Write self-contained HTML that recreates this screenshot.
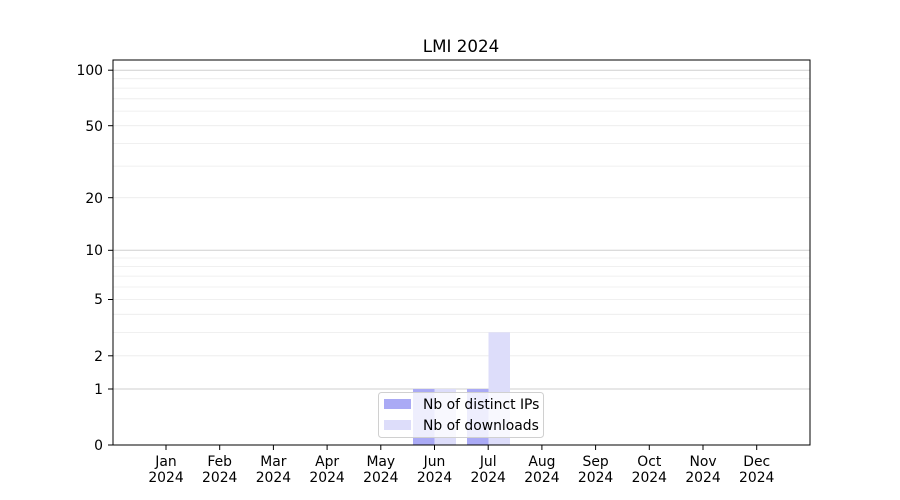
<!DOCTYPE html>
<html><head><meta charset="utf-8"><style>body{margin:0;background:#fff}svg{display:block}</style></head><body>
<svg width="900" height="500" xmlns="http://www.w3.org/2000/svg" font-family="DejaVu Sans, Liberation Sans, sans-serif" font-size="13.9">
<rect width="900" height="500" fill="#fff"/>
<g stroke="#ebebeb" stroke-width="0.8">
<line x1="113" x2="810" y1="355.8" y2="355.8"/><line x1="113" x2="810" y1="332.4" y2="332.4"/><line x1="113" x2="810" y1="314.3" y2="314.3"/><line x1="113" x2="810" y1="299.5" y2="299.5"/><line x1="113" x2="810" y1="287" y2="287"/><line x1="113" x2="810" y1="276.1" y2="276.1"/><line x1="113" x2="810" y1="266.6" y2="266.6"/><line x1="113" x2="810" y1="258" y2="258"/>
<line x1="113" x2="810" y1="197.7" y2="197.7"/><line x1="113" x2="810" y1="166.1" y2="166.1"/><line x1="113" x2="810" y1="143.4" y2="143.4"/><line x1="113" x2="810" y1="125.7" y2="125.7"/><line x1="113" x2="810" y1="111.1" y2="111.1"/><line x1="113" x2="810" y1="98.8" y2="98.8"/><line x1="113" x2="810" y1="88.1" y2="88.1"/><line x1="113" x2="810" y1="78.7" y2="78.7"/>
</g>
<g stroke="#cfcfcf" stroke-width="1">
<line x1="113" x2="810" y1="389" y2="389"/><line x1="113" x2="810" y1="250.3" y2="250.3"/><line x1="113" x2="810" y1="70.2" y2="70.2"/>
</g>
<rect x="413" y="389" width="21.5" height="56" fill="#aaaaf5"/>
<rect x="434.5" y="389" width="21.5" height="56" fill="#ddddfa"/>
<rect x="467" y="389" width="21.5" height="56" fill="#aaaaf5"/>
<rect x="488.5" y="332.4" width="21.5" height="112.6" fill="#ddddfa"/>
<rect x="113" y="60" width="697" height="385" fill="none" stroke="#000" stroke-width="1"/>
<g stroke="#000">
<line x1="108" x2="113" y1="445" y2="445"/><line x1="108" x2="113" y1="389" y2="389"/><line x1="108" x2="113" y1="355.8" y2="355.8"/><line x1="108" x2="113" y1="299.5" y2="299.5"/><line x1="108" x2="113" y1="250.3" y2="250.3"/><line x1="108" x2="113" y1="197.7" y2="197.7"/><line x1="108" x2="113" y1="125.7" y2="125.7"/><line x1="108" x2="113" y1="70.2" y2="70.2"/>
</g>
<g text-anchor="end" fill="#000">
<text x="103" y="450">0</text><text x="103" y="394">1</text><text x="103" y="361">2</text><text x="103" y="304">5</text><text x="103" y="255">10</text><text x="103" y="203">20</text><text x="103" y="131">50</text><text x="103" y="75">100</text>
</g>
<g stroke="#000">
<line x1="166" x2="166" y1="445" y2="450"/><line x1="219.7" x2="219.7" y1="445" y2="450"/><line x1="273.4" x2="273.4" y1="445" y2="450"/><line x1="327.1" x2="327.1" y1="445" y2="450"/><line x1="380.8" x2="380.8" y1="445" y2="450"/><line x1="434.5" x2="434.5" y1="445" y2="450"/><line x1="488.2" x2="488.2" y1="445" y2="450"/><line x1="541.9" x2="541.9" y1="445" y2="450"/><line x1="595.6" x2="595.6" y1="445" y2="450"/><line x1="649.3" x2="649.3" y1="445" y2="450"/><line x1="703" x2="703" y1="445" y2="450"/><line x1="756.7" x2="756.7" y1="445" y2="450"/>
</g>
<g text-anchor="middle" fill="#000">
<text x="166" y="466">Jan</text><text x="166" y="482">2024</text>
<text x="219.7" y="466">Feb</text><text x="219.7" y="482">2024</text>
<text x="273.4" y="466">Mar</text><text x="273.4" y="482">2024</text>
<text x="327.1" y="466">Apr</text><text x="327.1" y="482">2024</text>
<text x="380.8" y="466">May</text><text x="380.8" y="482">2024</text>
<text x="434.5" y="466">Jun</text><text x="434.5" y="482">2024</text>
<text x="488.2" y="466">Jul</text><text x="488.2" y="482">2024</text>
<text x="541.9" y="466">Aug</text><text x="541.9" y="482">2024</text>
<text x="595.6" y="466">Sep</text><text x="595.6" y="482">2024</text>
<text x="649.3" y="466">Oct</text><text x="649.3" y="482">2024</text>
<text x="703" y="466">Nov</text><text x="703" y="482">2024</text>
<text x="756.7" y="466">Dec</text><text x="756.7" y="482">2024</text>
<text x="461" y="52" font-size="16.7">LMI 2024</text>
</g>
<rect x="378.5" y="392.5" width="165" height="45" rx="3" fill="#fff" fill-opacity="0.8" stroke="#d0d0d0"/>
<rect x="384" y="399" width="27" height="10" fill="#aaaaf5"/>
<rect x="384" y="420" width="27" height="10" fill="#ddddfa"/>
<text x="423" y="409" fill="#000">Nb of distinct IPs</text>
<text x="423" y="430" fill="#000">Nb of downloads</text>
</svg>
</body></html>
